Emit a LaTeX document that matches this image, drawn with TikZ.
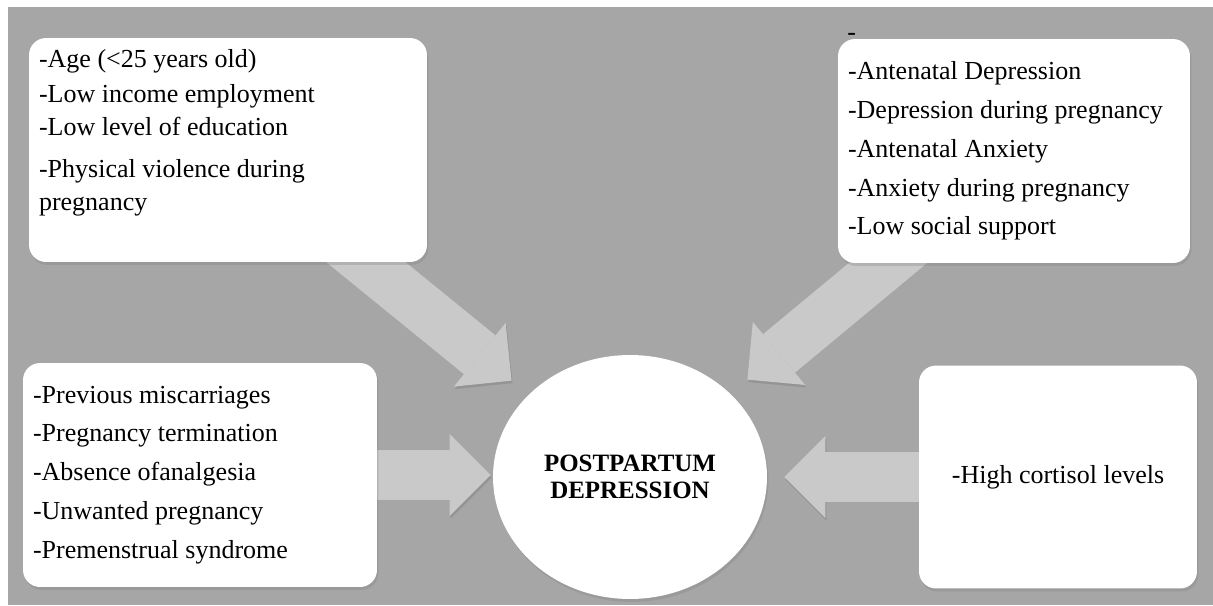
\documentclass[tikz,border=0pt]{standalone}
\usepackage{fontspec}
\setmainfont{Liberation Serif}
\usetikzlibrary{arrows.meta, positioning, shapes.geometric, shadows, backgrounds}

\begin{document}
\begin{tikzpicture}[x=0.02cm, y=-0.02cm,
  factbox/.style={fill=white, rounded corners=0.34cm, inner xsep=0.2cm, inner ysep=0pt,
    font=\fontsize{14.8pt}{22.1pt}\selectfont,
    drop shadow={shadow xshift=0.03cm, shadow yshift=-0.06cm, opacity=0.3}},
  bigarrow/.style={line width=1cm, draw=black!21,
    -{Triangle[length=0.82cm, width=1.64cm, line width=0pt]},
    preaction={draw=black!42, transform canvas={xshift=0.02cm, yshift=-0.05cm}}}
]
  \useasboundingbox (0,0) rectangle (1213,605);
  \begin{scope}[on background layer]
    \fill[white] (0,0) rectangle (1213,605);
    \fill[black!35] (8,7) rectangle (1213,605);
  \end{scope}

  % Risk factor boxes
  \node[factbox, minimum width=7.96cm, minimum height=4.48cm] (risk1) at (228,150)
    {\parbox[c][4.04cm][t]{7.56cm}{\raggedright\fontsize{14.8pt}{18.7pt}\selectfont
      -Age (<25 years old)\\[0.06cm]
      -Low income employment\\
      -Low level of education\\[0.18cm]
      -Physical violence during\\
      pregnancy}};
  \node[anchor=base west, inner sep=0pt, font=\fontsize{14.8pt}{22.1pt}\selectfont] (dash) at (847,40) {-};
  \node[factbox, minimum width=7.04cm, minimum height=4.48cm] (risk2) at (1014,151)
    {\parbox{6.64cm}{\raggedright
      -Antenatal Depression\\
      -Depression during pregnancy\\
      -Antenatal Anxiety\\
      -Anxiety during pregnancy\\
      -Low social support}};
  \node[factbox, minimum width=7.08cm, minimum height=4.48cm] (risk3) at (200,475)
    {\parbox{6.68cm}{\raggedright
      -Previous miscarriages\\
      -Pregnancy termination\\
      -Absence ofanalgesia\\
      -Unwanted pregnancy\\
      -Premenstrual syndrome}};
  \node[factbox, minimum width=5.56cm, minimum height=4.46cm] (risk4) at (1058,477) {-High cortisol levels};

  % Outcome
  \node[ellipse, fill=white, minimum width=5.48cm, minimum height=4.88cm, inner sep=0pt, align=center,
    font=\bfseries\fontsize{14.2pt}{15.3pt}\selectfont,
    drop shadow={shadow xshift=0.03cm, shadow yshift=-0.06cm, opacity=0.3}] (ppd) at (630,477)
    {POSTPARTUM\\DEPRESSION};

  % Block arrows
  \begin{scope}[on background layer]
    \draw[bigarrow, shorten >=0.44cm] (risk1.center) -- (ppd);
    \draw[bigarrow, shorten >=0.44cm] ([xshift=0.18cm]risk2.center) -- (ppd);
    \draw[bigarrow, shorten >=0.04cm] (risk3.center) -- (risk3.center -| ppd.west);
    \draw[bigarrow, shorten >=0.34cm] (risk4.center) -- (risk4.center -| ppd.east);
  \end{scope}
\end{tikzpicture}
\end{document}
